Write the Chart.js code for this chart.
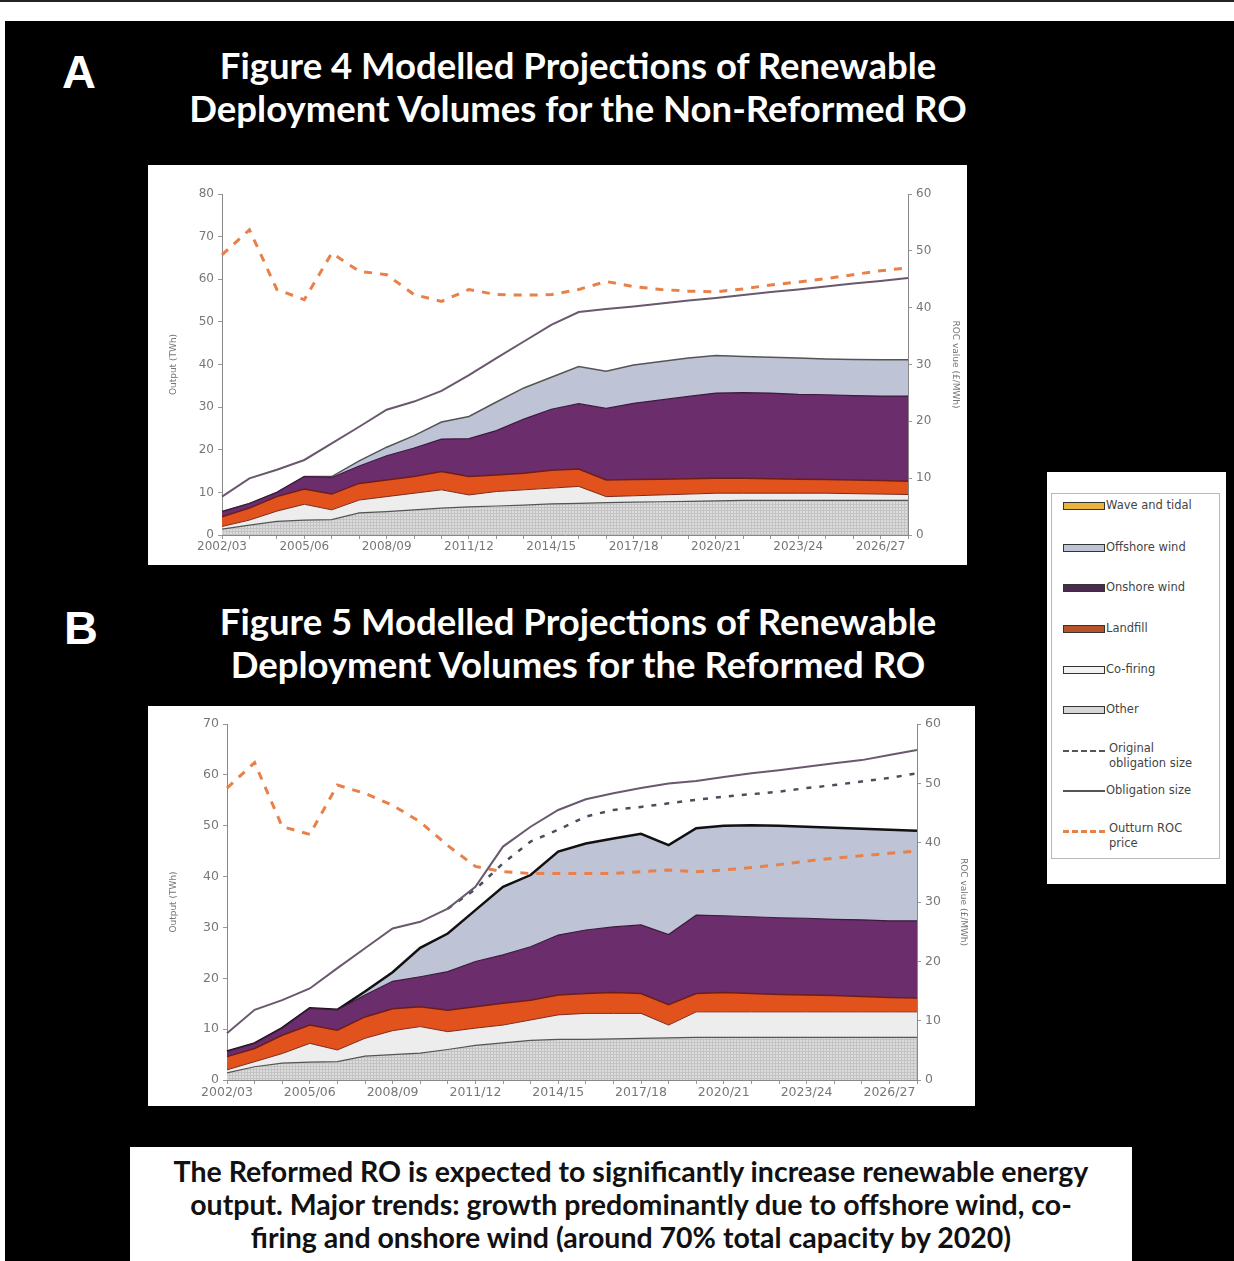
<!DOCTYPE html>
<html>
<head>
<meta charset="utf-8">
<script src="https://cdn.jsdelivr.net/npm/chart.js@4.4.0/dist/chart.umd.min.js"></script>
<style>
  body { margin: 0; width: 1234px; height: 1261px; background: #fff; position: relative; overflow: hidden; font-family: "DejaVu Sans", sans-serif; }
  #topline { position: absolute; left: 0; top: 0; width: 1234px; height: 2px; background: #222; }
  #panel { position: absolute; left: 5px; top: 21px; width: 1229px; height: 1240px; background: #000; }
  .letter { position: absolute; color: #fff; font: bold 47px "Liberation Sans", sans-serif; line-height: 47px; }
  .title { position: absolute; left: 128px; width: 900px; text-align: center; color: #fff; font: bold 36.5px Lato, sans-serif; line-height: 43px; }
  .box { position: absolute; background: #fff; }
  canvas { display: block; }
  #legend { position: absolute; left: 1047px; top: 472px; width: 179px; height: 412px; background: #fff; }
  #legend .frame { position: absolute; left: 4px; top: 21px; width: 167px; height: 364px; border: 1px solid #b8b8b8; }
  .item { position: absolute; left: 16px; font-size: 11.5px; color: #444; line-height: 15px; }
  .sw { position: absolute; left: 0; width: 40px; height: 6px; border: 1px solid #333; }
  .lab { position: absolute; left: 43px; white-space: nowrap; }
  .ln { position: absolute; left: 0; width: 42px; height: 0; }
  #note { position: absolute; left: 130px; top: 1147px; width: 1002px; height: 114px; background: #fff; text-align: center; font: bold 28.5px Lato, sans-serif; line-height: 33px; color: #111; padding-top: 8px; box-sizing: border-box; white-space: nowrap; }
</style>
</head>
<body>
<div id="topline"></div>
<div id="panel"></div>
<div class="letter" style="left:62px; top:48px;">A</div>
<div class="title" style="top:44px;">Figure 4 Modelled Projections of Renewable<br>Deployment Volumes for the Non-Reformed RO</div>
<div class="box" style="left:148px; top:165px; width:819px; height:400px;"><canvas id="chartA" width="819" height="400"></canvas></div>

<div class="letter" style="left:64px; top:604px;">B</div>
<div class="title" style="top:600px;">Figure 5 Modelled Projections of Renewable<br>Deployment Volumes for the Reformed RO</div>
<div class="box" style="left:148px; top:706px; width:827px; height:400px;"><canvas id="chartB" width="827" height="400"></canvas></div>

<div id="legend">
  <div class="frame"></div>
  <div class="item" style="top:30px;"><div class="sw" style="background:#e9b43a;"></div><div class="lab" style="top:-4px;">Wave and tidal</div></div>
  <div class="item" style="top:72px;"><div class="sw" style="background:#bec4d6;"></div><div class="lab" style="top:-4px;">Offshore wind</div></div>
  <div class="item" style="top:112px;"><div class="sw" style="background:#4a2a4e;"></div><div class="lab" style="top:-4px;">Onshore wind</div></div>
  <div class="item" style="top:153px;"><div class="sw" style="background:#b5532a;"></div><div class="lab" style="top:-4px;">Landfill</div></div>
  <div class="item" style="top:194px;"><div class="sw" style="background:#f2f2f2;"></div><div class="lab" style="top:-4px;">Co-firing</div></div>
  <div class="item" style="top:234px;"><div class="sw" style="background:#d6d6d6;"></div><div class="lab" style="top:-4px;">Other</div></div>
  <div class="item" style="top:278px;"><div class="ln" style="border-top:2px dashed #555;"></div><div class="lab" style="left:46px; top:-9px;">Original<br>obligation size</div></div>
  <div class="item" style="top:318px;"><div class="ln" style="border-top:2px solid #555;"></div><div class="lab" style="top:-7px;">Obligation size</div></div>
  <div class="item" style="top:358px;"><div class="ln" style="border-top:3px dashed #e8804a;"></div><div class="lab" style="left:46px; top:-9px;">Outturn ROC<br>price</div></div>
</div>

<div id="note">The Reformed RO is expected to significantly increase renewable energy<br>output. Major trends: growth predominantly due to offshore wind, co-<br>firing and onshore wind (around 70% total capacity by 2020)</div>

<script>
// categories (financial years)
const years = ['2002/03', '2003/04', '2004/05', '2005/06', '2006/07', '2007/08', '2008/09', '2009/10',
  '2010/11', '2011/12', '2012/13', '2013/14', '2014/15', '2015/16', '2016/17', '2017/18', '2018/19',
  '2019/20', '2020/21', '2021/22', '2022/23', '2023/24', '2024/25', '2025/26', '2026/27', '2027/28'];

// Figure 4 - non-reformed RO (TWh, stacked layers)
const otherA = [1.4, 2.3, 3.2, 3.5, 3.6, 5.2, 5.5, 5.9, 6.3, 6.6, 6.8, 7.0, 7.3, 7.4, 7.6, 7.7, 7.8, 7.9, 8.0, 8.1, 8.1, 8.1, 8.1, 8.1, 8.1, 8.1];
const cofiringA = [0.6, 1.2, 2.4, 3.7, 2.3, 3.0, 3.5, 3.9, 4.3, 2.8, 3.4, 3.6, 3.7, 4.0, 1.4, 1.5, 1.6, 1.7, 1.8, 1.7, 1.7, 1.7, 1.7, 1.6, 1.5, 1.4];
const landfillA = [2.3, 2.8, 3.4, 3.6, 3.7, 3.9, 3.9, 3.9, 4.3, 4.3, 3.9, 3.9, 4.2, 4.1, 3.9, 3.8, 3.7, 3.6, 3.5, 3.5, 3.4, 3.3, 3.2, 3.2, 3.2, 3.1];
const onshoreA = [1.2, 1.1, 1.0, 2.9, 3.9, 4.1, 5.7, 6.7, 7.6, 8.9, 10.4, 12.7, 14.3, 15.3, 16.8, 17.9, 18.6, 19.3, 20.0, 20.1, 20.1, 19.9, 19.9, 19.8, 19.8, 20.0];
const offshoreA = [0, 0, 0, 0, 0.2, 1.2, 2.0, 2.9, 4.0, 5.2, 6.7, 7.3, 7.5, 8.7, 8.7, 9.0, 9.0, 9.0, 8.8, 8.5, 8.4, 8.5, 8.4, 8.5, 8.5, 8.5];
const waveA = [0, 0, 0, 0, 0, 0, 0, 0, 0, 0, 0, 0, 0, 0, 0, 0, 0, 0, 0, 0, 0, 0, 0, 0, 0, 0];
const obligationA = [9.0, 13.3, 15.3, 17.6, 21.5, 25.4, 29.4, 31.3, 33.8, 37.5, 41.5, 45.4, 49.3, 52.3, 53.0, 53.6, 54.3, 55.0, 55.6, 56.3, 57.0, 57.6, 58.3, 59.0, 59.6, 60.3];
// ROC value, £/MWh (right axis)
const rocA = [49.3, 53.7, 43.2, 41.4, 49.6, 46.4, 45.8, 42.3, 41.1, 43.2, 42.3, 42.2, 42.3, 43.2, 44.6, 43.7, 43.2, 42.9, 42.8, 43.3, 44.0, 44.5, 45.1, 45.8, 46.5, 47.0];

// Figure 5 - reformed RO
const otherB = [1.4, 2.6, 3.3, 3.5, 3.6, 4.7, 5.0, 5.3, 6.0, 6.8, 7.3, 7.8, 8.0, 8.0, 8.1, 8.2, 8.3, 8.4, 8.4, 8.4, 8.4, 8.4, 8.4, 8.4, 8.4, 8.4];
const cofiringB = [0.6, 1.0, 1.9, 3.7, 2.3, 3.5, 4.7, 5.2, 3.5, 3.4, 3.5, 4.0, 4.8, 5.1, 5.0, 4.9, 2.5, 5.0, 5.0, 5.0, 5.0, 5.0, 5.0, 5.0, 5.0, 5.0];
const landfillB = [2.6, 2.6, 3.6, 3.6, 3.9, 4.2, 4.3, 3.9, 4.2, 4.2, 4.3, 3.9, 3.9, 3.9, 4.1, 3.9, 4.0, 3.6, 3.8, 3.6, 3.4, 3.3, 3.2, 3.0, 2.8, 2.7];
const onshoreB = [1.0, 1.0, 1.4, 3.3, 4.0, 4.3, 5.4, 5.9, 7.6, 8.9, 9.5, 10.5, 11.8, 12.5, 12.9, 13.5, 13.8, 15.4, 15.1, 15.1, 15.1, 15.1, 15.0, 15.1, 15.1, 15.2];
const offshoreB = [0, 0, 0, 0, 0, 0.7, 1.8, 5.7, 7.5, 10.1, 13.4, 14.1, 16.4, 17.0, 17.4, 17.9, 17.6, 17.1, 17.7, 18.0, 18.1, 18.0, 18.0, 17.9, 17.9, 17.7];
const waveB = [0, 0, 0, 0, 0, 0, 0, 0, 0, 0, 0, 0, 0, 0, 0, 0, 0, 0, 0, 0, 0, 0, 0, 0, 0, 0];
const obligationB = [9.2, 13.8, 15.7, 18.0, 22.0, 25.9, 29.8, 31.1, 33.7, 38.0, 45.9, 49.8, 53.1, 55.2, 56.4, 57.4, 58.3, 58.8, 59.6, 60.3, 60.9, 61.6, 62.3, 62.9, 63.9, 64.9];
const originalB = [null, null, null, null, null, null, null, null, 33.7, 37.5, 42.6, 46.9, 49.2, 51.8, 53.1, 53.7, 54.4, 55.1, 55.7, 56.2, 56.7, 57.4, 58.0, 58.7, 59.4, 60.3];
const rocB = [49.2, 53.5, 42.7, 41.4, 49.7, 48.3, 46.3, 43.5, 39.5, 36.0, 35.1, 34.8, 34.8, 34.8, 34.8, 35.1, 35.4, 35.1, 35.4, 35.8, 36.3, 36.9, 37.4, 37.8, 38.2, 38.6];

// grey stippled fill used for "Other"
function makePattern() {
  const c = document.createElement("canvas");
  c.width = 3; c.height = 3;
  const g = c.getContext("2d");
  g.fillStyle = "#dcdcdc"; g.fillRect(0, 0, 3, 3);
  g.fillStyle = "#c3c3c3"; g.fillRect(0, 0, 1, 3); g.fillRect(0, 0, 3, 1);
  return g.createPattern(c, "repeat");
}

function area(label, data, bg, border, width, fill) {
  return { label: label, data: data, backgroundColor: bg, borderColor: border, borderWidth: width,
    fill: fill, stack: "tech", yAxisID: "y", pointRadius: 0, tension: 0, order: 1 };
}

function makeChart(canvas, d) {
  const datasets = [
    area("Other", d.other, makePattern(), "#555", 1.2, "origin"),
    area("Co-firing", d.cofiring, "#ededed", "#7a2a1e", 1, "-1"),
    area("Landfill", d.landfill, "#e2521d", "#6e1c18", 1.5, "-1"),
    area("Onshore wind", d.onshore, "#6b2d6c", "#3d1a3f", 1.2, "-1"),
    area("Offshore wind", d.offshore, "#bec4d6", d.topColor, d.topWidth, "-1"),
    area("Wave and tidal", d.wave, "#e9b43a", "rgba(0,0,0,0)", 0, "-1"),
    { label: "Obligation size", data: d.obligation, borderColor: "#6a586e", borderWidth: 2, fill: false,
      stack: "ob", yAxisID: "y", pointRadius: 0, order: 0 },
  ];
  if (d.original) {
    datasets.push({ label: "Original obligation size", data: d.original, borderColor: "#4c4c5c", borderWidth: 2.5,
      borderDash: [5, 8], fill: false, stack: "orig", yAxisID: "y", pointRadius: 0, order: 0 });
  }
  datasets.push({ label: "Outturn ROC price", data: d.roc, borderColor: "#e8804a", borderWidth: 3,
    borderDash: [8, 8], fill: false, yAxisID: "y1", pointRadius: 0, order: 0 });

  const tickFont = { family: "DejaVu Sans", size: d.fontSize };
  const titleFont = { family: "DejaVu Sans", size: 9 };
  return new Chart(canvas, {
    type: "line",
    data: { labels: years, datasets: datasets },
    options: {
      responsive: false,
      animation: false,
      devicePixelRatio: 1,
      layout: { padding: { top: d.padTop } },
      plugins: { legend: { display: false }, tooltip: { enabled: false } },
      scales: {
        x: {
          grid: { drawOnChartArea: false, tickLength: 4, color: "#999" },
          border: { color: "#888" },
          ticks: { autoSkip: false, maxRotation: 0, color: "#777", font: tickFont, padding: 1,
            callback: (v, i) => (i % 3 === 0 ? years[i] : "") },
          afterFit: (s) => { s.height = d.xHeight; },
        },
        y: {
          stacked: true, min: 0, max: d.yMax,
          grid: { drawOnChartArea: false, tickLength: 4, color: "#999" },
          border: { color: "#888" },
          ticks: { stepSize: 10, color: "#777", font: tickFont, padding: 4 },
          title: { display: true, text: "Output (TWh)", color: "#777", font: titleFont, padding: { top: 20 } },
          afterFit: (s) => { s.width = d.leftW; },
        },
        y1: {
          position: "right", min: 0, max: 60,
          grid: { drawOnChartArea: false, tickLength: 4, color: "#999" },
          border: { color: "#888" },
          ticks: { stepSize: 10, color: "#777", font: tickFont, padding: 4 },
          title: { display: true, text: "ROC value (£/MWh)", color: "#777", font: titleFont, padding: { top: 6 } },
          afterFit: (s) => { s.width = d.rightW; },
        },
      },
    },
  });
}

makeChart(document.getElementById("chartA"), {
  other: otherA, cofiring: cofiringA, landfill: landfillA, onshore: onshoreA, offshore: offshoreA, wave: waveA,
  obligation: obligationA, roc: rocA, yMax: 80, topColor: "#555", topWidth: 1.5,
  padTop: 29, xHeight: 30, leftW: 74, rightW: 59, fontSize: 12,
});

makeChart(document.getElementById("chartB"), {
  other: otherB, cofiring: cofiringB, landfill: landfillB, onshore: onshoreB, offshore: offshoreB, wave: waveB,
  obligation: obligationB, original: originalB, roc: rocB, yMax: 70, topColor: "#111", topWidth: 2.5,
  padTop: 18, xHeight: 26, leftW: 79, rightW: 58, fontSize: 12.5,
});
</script>
</body>
</html>
